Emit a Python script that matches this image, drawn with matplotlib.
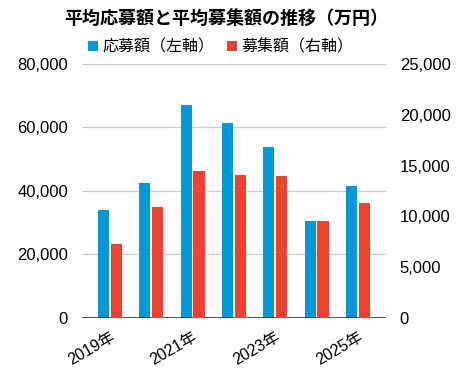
import matplotlib.pyplot as plt
import numpy as np

plt.rcParams['font.family'] = ['Liberation Sans', 'Noto Sans CJK JP']

# data (万円)
years = ['2019年', '2020年', '2021年', '2022年', '2023年', '2024年', '2025年']
applied = [34000, 42400, 67000, 61300, 53700, 30500, 41500]   # left axis
raised = [7300, 10900, 14500, 14100, 14000, 9500, 11300]       # right axis
left_ticks = [0, 20000, 40000, 60000, 80000]
right_ticks = [0, 5000, 10000, 15000, 20000, 25000]

blue = '#0097d8'
red = '#ea4335'

fig = plt.figure(figsize=(4.6, 3.9), dpi=100)
ax = fig.add_axes([0.178, 0.185, 0.661, 0.651])
ax2 = ax.twinx()

x = np.arange(len(years))
w = 0.27
off = 0.155
ax.bar(x - off, applied, w, color=blue, label='応募額（左軸）', zorder=3)
ax2.bar(x + off, raised, w, color=red, label='募集額（右軸）', zorder=3)

ax.set_ylim(0, 80000)
ax2.set_ylim(0, 25000)
ax.set_xlim(-0.68, 6.68)
ax.set_yticks(left_ticks)
ax2.set_yticks(right_ticks)
ax.set_yticklabels([f'{v:,}' for v in left_ticks], fontsize=12)
ax2.set_yticklabels([f'{v:,}' for v in right_ticks], fontsize=12)
ax.yaxis.grid(True, color='#cccccc', linewidth=0.9, zorder=0)
ax.set_axisbelow(True)

ax.set_xticks(x[::2])
ax.set_xticklabels(years[::2], rotation=30, ha='right', fontsize=11.5,
                   rotation_mode='anchor')

for a in (ax, ax2):
    for s in a.spines.values():
        s.set_visible(False)
    a.tick_params(length=0)
ax.tick_params(axis='y', pad=10)
ax2.tick_params(axis='y', pad=10)
ax.tick_params(axis='x', pad=8)
ax.axhline(0, color='#333333', linewidth=1.2, zorder=4)

fig.text(0.492, 0.952, '平均応募額と平均募集額の推移（万円）', ha='center', va='center',
         fontsize=13, fontweight='bold', family=['Noto Sans CJK JP'])

h1, l1 = ax.get_legend_handles_labels()
h2, l2 = ax2.get_legend_handles_labels()
fig.legend(h1 + h2, l1 + l2, loc='center', bbox_to_anchor=(0.48, 0.88), ncol=2,
           frameon=False, handlelength=0.62, handleheight=0.62,
           columnspacing=0.75, handletextpad=0.3,
           prop={'family': ['Noto Sans CJK JP'], 'size': 11.5})

fig.savefig('out.png', dpi=100)
